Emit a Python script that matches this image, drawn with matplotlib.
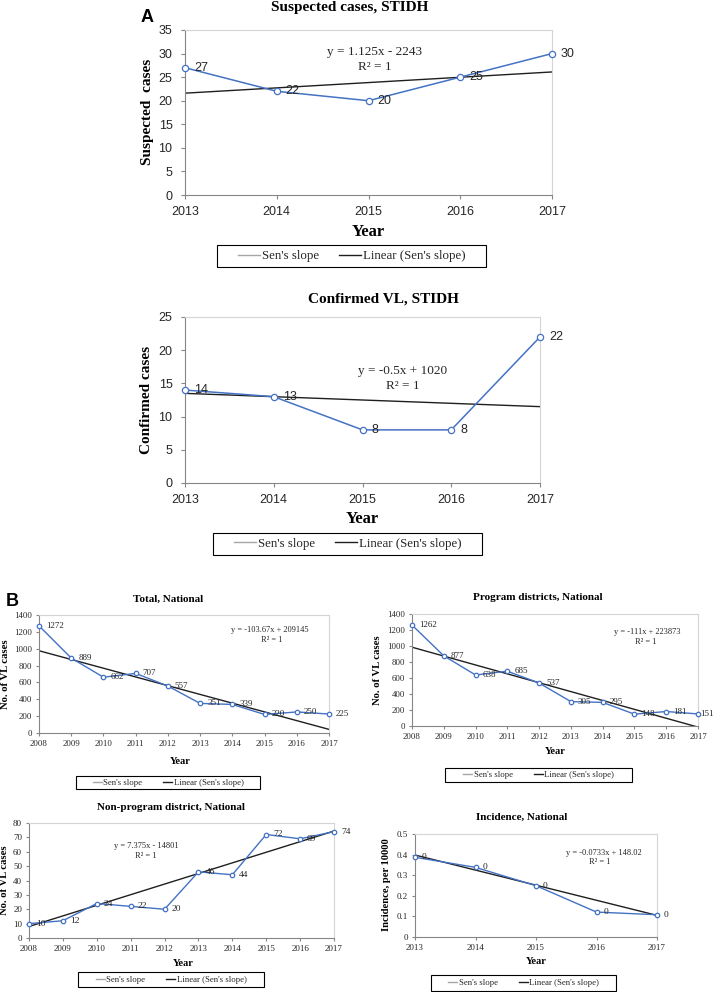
import matplotlib
matplotlib.use('Agg')
import matplotlib.pyplot as plt
from matplotlib.lines import Line2D
from matplotlib.patches import Rectangle

plt.rcParams['font.family'] = ['Liberation Serif', 'DejaVu Serif']

# ── data ──
years_a = [2013, 2014, 2015, 2016, 2017]
suspected = [27, 22, 20, 25, 30]
suspected_trend = [21.6, 26.1]          # trend line at first / last year
confirmed = [14, 13, 8, 8, 22]
confirmed_trend = [13.5, 11.5]

years_b = [2008, 2009, 2010, 2011, 2012, 2013, 2014, 2015, 2016, 2017]
total = [1272, 889, 662, 707, 557, 351, 339, 220, 250, 225]
total_trend = [976, 43]
program = [1262, 877, 638, 685, 537, 305, 295, 148, 181, 151]
program_trend = [985, -14]
nonprogram = [10, 12, 24, 22, 20, 46, 44, 72, 69, 74]
nonprogram_trend = [8, 74.4]
incidence = [0.387, 0.338, 0.249, 0.121, 0.108]
incidence_labels = ['0', '0', '0', '0', '0']
incidence_trend = [0.398, 0.105]

BLUE = '#4472C4'
W, H = 713, 992

fig = plt.figure(figsize=(W / 100, H / 100), dpi=100)


def box(l, t, r, b):
    return [l / W, 1 - b / H, (r - l) / W, (b - t) / H]


def ftext(x, y, s, **kw):
    fig.text(x / W, 1 - y / H, s, ha='center', va='center', **kw)


def draw_panel(rect, years, values, labels, trend, yticks, ytl, tfam, tsize,
               lsize, ms, off, tick_len, pad_y, pad_x, lw=1.0, last_off=None):
    ax = fig.add_axes(box(*rect))
    ax.plot([years[0], years[-1]], trend, color='#1f1f1f', lw=1.0, zorder=2)
    ax.plot(years, values, color=BLUE, lw=lw, marker='o', ms=ms, mfc='white',
            mec=BLUE, mew=0.9, zorder=3, clip_on=False)
    for i, (x, y, s) in enumerate(zip(years, values, labels)):
        dx = off
        if last_off is not None and i == len(years) - 1:
            dx = last_off
        ax.annotate(s, (x, y), xytext=(dx, 0), textcoords='offset points',
                    va='center', ha='left', fontsize=lsize, family=tfam,
                    color='#262626', annotation_clip=False)
    ax.set_xlim(years[0], years[-1])
    ax.set_ylim(yticks[0], yticks[-1])
    ax.set_xticks(years)
    ax.set_xticklabels([str(y) for y in years], family=tfam, fontsize=tsize)
    ax.set_yticks(yticks)
    ax.set_yticklabels(ytl, family=tfam, fontsize=tsize)
    for s in ['left', 'bottom']:
        ax.spines[s].set_color('#868686')
        ax.spines[s].set_linewidth(0.8)
    for s in ['top', 'right']:
        ax.spines[s].set_color('#D4D4D4')
        ax.spines[s].set_linewidth(0.8)
    ax.tick_params(axis='both', color='#868686', length=tick_len, width=0.8,
                   labelcolor='#262626')
    ax.tick_params(axis='y', pad=pad_y)
    ax.tick_params(axis='x', pad=pad_x)
    return ax


def draw_legend(l, t, r, b, fs, hlen, cspace):
    fig.add_artist(Rectangle((l / W, 1 - b / H), (r - l) / W, (b - t) / H,
                             transform=fig.transFigure, fill=False,
                             ec='black', lw=0.8))
    handles = [Line2D([], [], color='#A6A6A6', lw=1),
               Line2D([], [], color='#1f1f1f', lw=1)]
    fig.legend(handles, ["Sen's slope", "Linear (Sen's slope)"], loc='center',
               bbox_to_anchor=((l + r) / 2 / W, 1 - (t + b) / 2 / H), ncol=2,
               frameon=False, prop={'family': 'Liberation Serif', 'size': fs},
               handlelength=hlen, handletextpad=0.15, columnspacing=cspace,
               borderpad=0, borderaxespad=0, labelcolor='#262626')


# ── A: suspected cases ──
ftext(147, 17, 'A', family='Liberation Sans', fontsize=13, weight='bold')
yt = list(range(0, 36, 5))
draw_panel((185, 30, 552, 195), years_a, suspected, [str(v) for v in suspected],
           suspected_trend, yt, [str(v) for v in yt], 'Liberation Sans', 9, 9,
           4.5, 6.5, 3, 6, 5, lw=1.1)
ftext(350, 7, 'Suspected cases, STIDH', fontsize=11, weight='bold')
ftext(147, 112, 'Suspected  cases', fontsize=11, weight='bold', rotation=90)
ftext(368, 232, 'Year', fontsize=12, weight='bold')
ftext(375, 52, 'y = 1.125x - 2243', fontsize=9.5, color='#262626')
ftext(375, 67, 'R² = 1', fontsize=9.5, color='#262626')
draw_legend(217, 245, 486, 267, 9.3, 1.7, 1.55)

# ── A: confirmed VL ──
yt = list(range(0, 26, 5))
draw_panel((185, 317, 540, 483), years_a, confirmed, [str(v) for v in confirmed],
           confirmed_trend, yt, [str(v) for v in yt], 'Liberation Sans', 9, 9,
           4.5, 6.5, 3, 6, 5, lw=1.1)
ftext(383, 299, 'Confirmed VL, STIDH', fontsize=11, weight='bold')
ftext(147, 400, 'Confirmed cases', fontsize=11, weight='bold', rotation=90)
ftext(362, 519, 'Year', fontsize=12, weight='bold')
ftext(403, 371, 'y = -0.5x + 1020', fontsize=9.5, color='#262626')
ftext(403, 386, 'R² = 1', fontsize=9.5, color='#262626')
draw_legend(213, 533, 482, 555, 9.3, 1.7, 1.55)

# ── B ──
ftext(12, 602, 'B', family='Liberation Sans', fontsize=13, weight='bold')
yt = list(range(0, 1401, 200))

draw_panel((39, 615, 329, 733), years_b, total, [str(v) for v in total],
           total_trend, yt, [str(v) for v in yt], 'Liberation Serif', 6.3, 6.5,
           3.2, 5, 2, 3, 3)
ftext(168, 599, 'Total, National', fontsize=8, weight='bold')
ftext(6, 674, 'No. of VL cases', fontsize=7.7, weight='bold', rotation=90)
ftext(180, 762, 'Year', fontsize=7.5, weight='bold')
ftext(270, 630, 'y = -103.67x + 209145', fontsize=6, color='#262626')
ftext(272, 640, 'R² = 1', fontsize=6, color='#262626')
draw_legend(76, 776, 260, 789, 6.3, 1.05, 2.4)

draw_panel((412, 614, 698, 726), years_b, program, [str(v) for v in program],
           program_trend, yt, [str(v) for v in yt], 'Liberation Serif', 6.3, 6.5,
           3.2, 5, 2, 3, 3, last_off=1.5)
ftext(538, 598, 'Program districts, National', fontsize=8, weight='bold')
ftext(377, 670, 'No. of VL cases', fontsize=7.7, weight='bold', rotation=90)
ftext(555, 751, 'Year', fontsize=7.5, weight='bold')
ftext(647, 632, 'y = -111x + 223873', fontsize=6, color='#262626')
ftext(646, 642, 'R² = 1', fontsize=6, color='#262626')
draw_legend(445, 768, 632, 782, 6.3, 1.05, 2.4)

yt = list(range(0, 81, 10))
draw_panel((29, 823, 334, 938), years_b, nonprogram, [str(v) for v in nonprogram],
           nonprogram_trend, yt, [str(v) for v in yt], 'Liberation Serif', 6.5, 6.8,
           3.2, 5, 2, 3, 3)
ftext(171, 807, 'Non-program district, National', fontsize=8, weight='bold')
ftext(5, 880, 'No. of VL cases', fontsize=7.7, weight='bold', rotation=90)
ftext(183, 963, 'Year', fontsize=7.5, weight='bold')
ftext(146, 846, 'y = 7.375x - 14801', fontsize=6, color='#262626')
ftext(146, 856, 'R² = 1', fontsize=6, color='#262626')
draw_legend(78, 972, 264, 987, 6.3, 1.05, 2.4)

yt = [0, 0.1, 0.2, 0.3, 0.4, 0.5]
draw_panel((415, 834, 657, 937), years_a, incidence, incidence_labels,
           incidence_trend, yt, ['0', '0.1', '0.2', '0.3', '0.4', '0.5'],
           'Liberation Serif', 6.5, 6.8, 3.2, 5, 2, 3, 3)
ftext(522, 817, 'Incidence, National', fontsize=8, weight='bold')
ftext(387, 885, 'Incidence, per 10000', fontsize=7.7, weight='bold', rotation=90)
ftext(536, 962, 'Year', fontsize=7.5, weight='bold')
ftext(604, 853, 'y = -0.0733x + 148.02', fontsize=6, color='#262626')
ftext(600, 862, 'R² = 1', fontsize=6, color='#262626')
draw_legend(431, 975, 616, 991, 6.3, 1.05, 2.4)

plt.savefig('out.png', dpi=100)
plt.close()
